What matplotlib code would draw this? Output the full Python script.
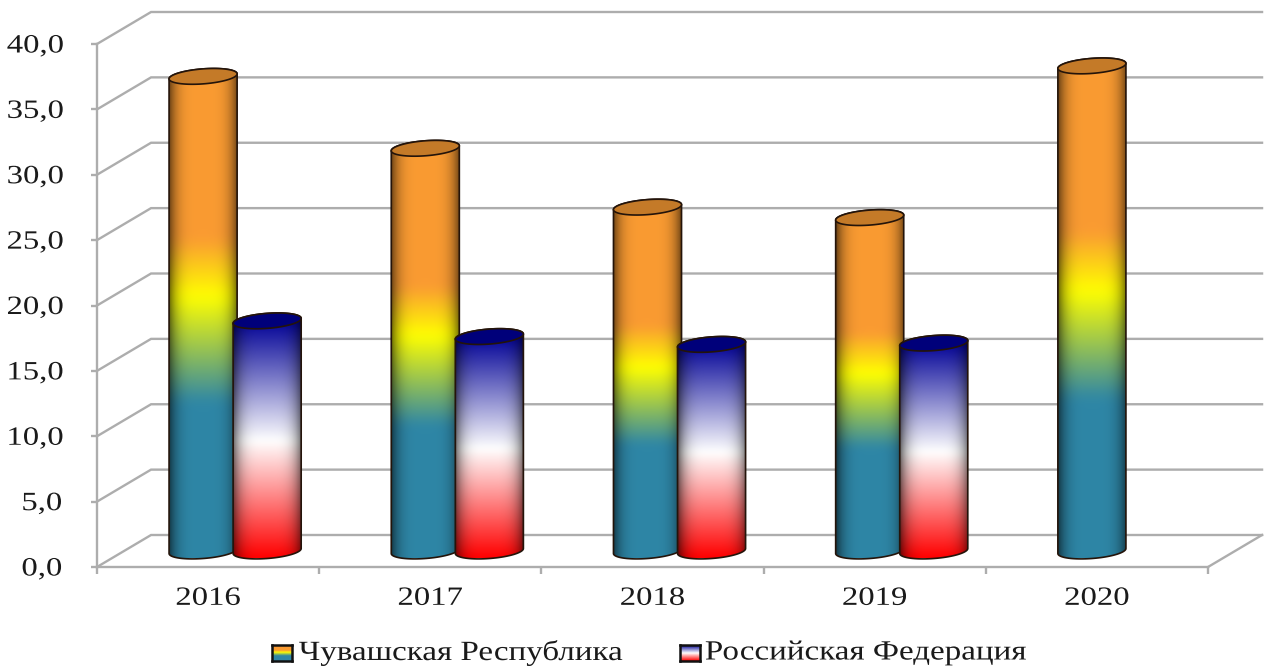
# Cylinder bars, Chuvash Republic vs Russian Federation
import numpy as np
import matplotlib
matplotlib.use('Agg')
import matplotlib.pyplot as plt
from matplotlib.patches import PathPatch, Polygon
from matplotlib.path import Path
from matplotlib.patheffects import AbstractPathEffect
from matplotlib.transforms import Affine2D

years = ['2016', '2017', '2018', '2019', '2020']
chuvashia = [36.3, 30.8, 26.3, 25.5, 37.1]
russia = [17.6, 16.4, 15.8, 15.9, None]
y_ticks = [0, 5, 10, 15, 20, 25, 30, 35, 40]
y_labels = ['0,0', '5,0', '10,0', '15,0', '20,0', '25,0', '30,0', '35,0', '40,0']
series_names = ['Чувашская Республика', 'Российская Федерация']

W, H = 1270, 669
GRAY = '#adadad'
TEXT = '#1a1a1a'

# gradient stops: fraction of the bar height, colour
stops_chuv = [(0, (46, 134, 166)), (.32, (46, 134, 166)), (.54, (255, 255, 0)),
              (.66, (250, 155, 50)), (1, (250, 155, 50))]
stops_rus = [(0, (255, 0, 0)), (.49, (255, 255, 255)), (1, (0, 0, 150))]
cap_chuv = '#c47a28'
cap_rus = '#00007a'


class Stretch(AbstractPathEffect):
    # the reference picture is stretched sideways, text too
    def __init__(self, sx):
        super().__init__()
        self.sx = sx

    def draw_path(self, renderer, gc, tpath, affine, rgbFace=None):
        ext = tpath.get_extents()
        cx = (ext.x0 + ext.x1) / 2
        t = Affine2D().translate(-cx, 0).scale(self.sx, 1).translate(cx, 0)
        renderer.draw_path(gc, tpath, t + affine, rgbFace)


plt.rcParams['font.family'] = ['Liberation Serif', 'DejaVu Serif']

fig = plt.figure(figsize=(W / 100, H / 100), dpi=100)
ax = fig.add_axes([97 / W, 1 - 567 / H, (1208 - 97) / W, (567 - 44) / H])
ax.patch.set_alpha(0)

# depth of the fake 3D box in data units
dx = 54 / 222
dy = 32 / 13.075
rx = 34 / 222
ry = 7.5 / 13.075
tilt = 2.5 / 13.075
bar_off = 32 / 222


def ramp(stops, n=300):
    fr = [s[0] for s in stops]
    rows = np.linspace(0, 1, n)
    col = np.stack([np.interp(rows, fr, [s[1][k] for s in stops]) for k in range(3)], axis=1) / 255
    # soften the kinks at the stops
    k = n // 24
    pad = np.vstack([np.repeat(col[:1], k, axis=0), col, np.repeat(col[-1:], k, axis=0)])
    box = np.ones(k) / k
    return np.stack([np.convolve(pad[:, c], box, mode='same')[k:-k] for c in range(3)], axis=1)


def gradient_image(stops):
    u = np.linspace(-1, 1, 120)
    shade = 1 - 0.58 * np.abs(u) ** 4
    return ramp(stops)[:, None, :] * shade[None, :, None]


def ellipse(cx, cy, t):
    return np.column_stack([cx + rx * np.cos(t), cy + ry * np.sin(t) + tilt * np.cos(t)])


def cylinder(cx, value, stops, cap, z):
    base = dy / 2
    top = base + value
    lower = ellipse(cx, base, np.linspace(np.pi, 2 * np.pi, 60))
    upper = ellipse(cx, top, np.linspace(0, np.pi, 60))
    pts = np.vstack([lower, upper, lower[:1]])
    body = PathPatch(Path(pts, closed=True), fc='none', ec='#24140a', lw=1.2, zorder=z + 1)
    ax.add_patch(body)
    im = ax.imshow(gradient_image(stops), origin='lower', aspect='auto', zorder=z,
                   extent=[cx - rx, cx + rx, base - ry, top], interpolation='bilinear')
    im.set_clip_path(body)
    lid = ellipse(cx, top, np.linspace(0, 2 * np.pi, 120))
    ax.add_patch(Polygon(lid, closed=True, fc=cap, ec='#24140a', lw=1.2, zorder=z + 2))


# back wall, gridlines run in from the front axis
for v in y_ticks:
    ax.plot([-0.5, -0.5 + dx, 4.5 + dx], [v, v + dy, v + dy], color=GRAY, lw=1.7,
            clip_on=False, zorder=1, solid_joinstyle='miter')
ax.plot([4.5, 4.5 + dx], [0, dy], color=GRAY, lw=1.7, clip_on=False, zorder=1)

for i, v in enumerate(chuvashia):
    cylinder(i - bar_off + dx / 2, v, stops_chuv, cap_chuv, 3)
for i, v in enumerate(russia):
    if v is not None:
        cylinder(i + bar_off + dx / 2, v, stops_rus, cap_rus, 7)

ax.set_xlim(-0.5, 4.5)
ax.set_ylim(0, 40)
for s in ['top', 'right']:
    ax.spines[s].set_visible(False)
for s in ['left', 'bottom']:
    ax.spines[s].set_color(GRAY)
    ax.spines[s].set_linewidth(1.7)

ax.set_yticks(y_ticks)
ax.set_yticklabels(y_labels, fontsize=19, color=TEXT, path_effects=[Stretch(1.24)])
ax.tick_params(axis='y', length=4, width=1.7, color=GRAY, pad=24)
ax.set_xticks(range(len(years)))
ax.set_xticklabels(years, fontsize=19, color=TEXT, path_effects=[Stretch(1.24)])
ax.set_xticks(np.arange(-0.5, 5), minor=True)
ax.tick_params(axis='x', which='major', length=0, pad=15)
ax.tick_params(axis='x', which='minor', length=5, width=1.7, color=GRAY)

# legend, swatches with the same gradients
for left, stops, name, cx in [(272, stops_chuv, series_names[0], 461),
                              (680, stops_rus, series_names[1], 866)]:
    sw = fig.add_axes([left / W, 1 - 661 / H, 20 / W, 16 / H])
    sw.imshow(ramp(stops, 48)[:, None, :], origin='lower', aspect='auto')
    sw.set_xticks([])
    sw.set_yticks([])
    for sp in sw.spines.values():
        sp.set_linewidth(1.8)
        sp.set_color('#111111')
    fig.text(cx / W, 1 - 653 / H, name, fontsize=20, color=TEXT, ha='center', va='center',
             path_effects=[Stretch(1.19)])

fig.savefig('out.png', dpi=100)
